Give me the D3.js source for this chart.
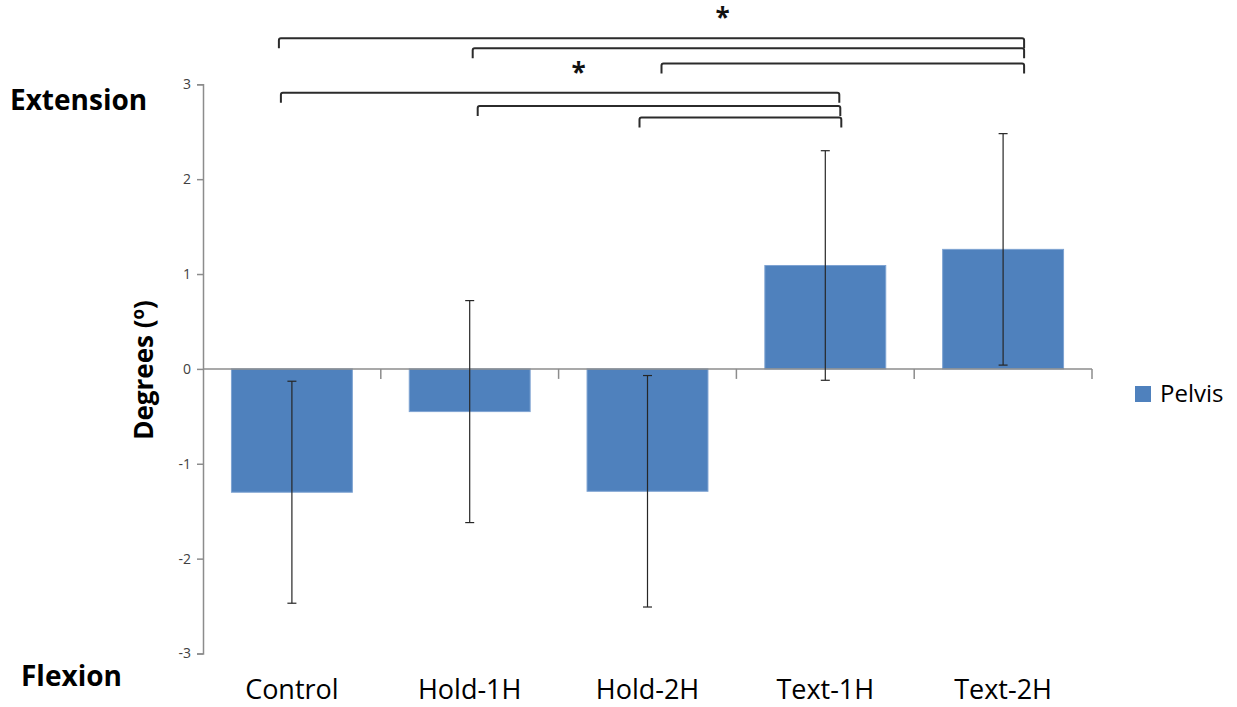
<!DOCTYPE html>
<html>
<head>
<meta charset="utf-8">
<script src="https://cdn.jsdelivr.net/npm/d3@7"></script>
<style>
  body { margin: 0; background: #fff; }
  text { font-family: "Open Sans", sans-serif; }
</style>
</head>
<body>
<div id="chart"></div>
<script>
// Data
const categories = ["Control", "Hold-1H", "Hold-2H", "Text-1H", "Text-2H"];
const pelvisMeans = [-1.30, -0.45, -1.29, 1.09, 1.26];
const pelvisErrors = [1.17, 1.17, 1.22, 1.21, 1.22];
const yTicks = [-3, -2, -1, 0, 1, 2, 3];

// Significance brackets (from, to, level in degrees)
const brackets = [
    { from: "Control", to: "Text-2H", level: 3.485, dx1: -13, dx2: 21 },
    { from: "Hold-1H", to: "Text-2H", level: 3.38, dx1: 3, dx2: 21 },
    { from: "Hold-2H", to: "Text-2H", level: 3.22, dx1: 14, dx2: 21 },
    { from: "Control", to: "Text-1H", level: 2.91, dx1: -11, dx2: 14 },
    { from: "Hold-1H", to: "Text-1H", level: 2.77, dx1: 8, dx2: 15 },
    { from: "Hold-2H", to: "Text-1H", level: 2.65, dx1: -8, dx2: 16 }
];
const stars = [
    { at: "Hold-2H", dx: 75, level: 3.68 },
    { at: "Hold-1H", dx: 109, level: 3.10 }
];

function createBarChart(containerId) {
    const width = 1237;
    const height = 707;

    d3.select("#" + containerId).html("");

    const svg = d3.select("#" + containerId)
        .append("svg")
        .attr("width", width)
        .attr("height", height);

    const x = d3.scaleBand()
        .domain(categories)
        .range([203, 1092])
        .paddingInner(0.32)
        .paddingOuter(0.16);

    const y = d3.scaleLinear()
        .domain([-3, 3])
        .range([653.5, 84.3]);

    const cx = c => x(c) + x.bandwidth() / 2;
    const axisColor = "#8c8c8c";

    // y axis
    const yAxis = d3.axisLeft(y)
        .tickValues(yTicks)
        .tickSize(6)
        .tickPadding(6)
        .tickFormat(d => String(d));

    const yg = svg.append("g")
        .attr("transform", "translate(203,0)")
        .call(yAxis);
    yg.select(".domain").attr("stroke", axisColor).attr("stroke-width", 1.5);
    yg.selectAll(".tick line").attr("stroke", axisColor).attr("stroke-width", 1.5);
    yg.selectAll(".tick text")
        .attr("fill", "#404040")
        .style("font-size", "14px");

    // bars
    svg.selectAll(".bar")
        .data(categories)
        .enter()
        .append("rect")
        .attr("class", "bar")
        .attr("x", d => x(d))
        .attr("width", x.bandwidth())
        .attr("y", (d, i) => y(Math.max(0, pelvisMeans[i])))
        .attr("height", (d, i) => Math.abs(y(pelvisMeans[i]) - y(0)))
        .attr("fill", "#4f81bd")
        .attr("stroke", "#7ea3d2")
        .attr("stroke-width", 1);

    // x axis along zero line, ticks at category boundaries
    const step = x.step();
    const x0 = x.range()[0];
    svg.append("line")
        .attr("x1", x0)
        .attr("x2", x.range()[1])
        .attr("y1", y(0))
        .attr("y2", y(0))
        .attr("stroke", axisColor)
        .attr("stroke-width", 1.5);

    svg.selectAll(".xtick")
        .data(d3.range(1, categories.length + 1))
        .enter()
        .append("line")
        .attr("class", "xtick")
        .attr("x1", i => x0 + i * step)
        .attr("x2", i => x0 + i * step)
        .attr("y1", y(0))
        .attr("y2", y(0) + 10)
        .attr("stroke", axisColor)
        .attr("stroke-width", 1.5);

    // error bars
    const err = svg.selectAll(".err")
        .data(categories)
        .enter()
        .append("g")
        .attr("class", "err")
        .attr("stroke", "#262626")
        .attr("stroke-width", 1.2);

    err.append("line")
        .attr("x1", d => cx(d))
        .attr("x2", d => cx(d))
        .attr("y1", (d, i) => y(pelvisMeans[i] + pelvisErrors[i]))
        .attr("y2", (d, i) => y(pelvisMeans[i] - pelvisErrors[i]));

    [1, -1].forEach(s => {
        err.append("line")
            .attr("x1", d => cx(d) - 4.5)
            .attr("x2", d => cx(d) + 4.5)
            .attr("y1", (d, i) => y(pelvisMeans[i] + s * pelvisErrors[i]))
            .attr("y2", (d, i) => y(pelvisMeans[i] + s * pelvisErrors[i]));
    });

    // category labels
    svg.selectAll(".xlabel")
        .data(categories)
        .enter()
        .append("text")
        .attr("class", "xlabel")
        .attr("x", d => cx(d))
        .attr("y", 699)
        .attr("text-anchor", "middle")
        .attr("fill", "#000")
        .style("font-size", "27px")
        .text(d => d);

    // significance brackets
    const tickLen = 10;
    svg.selectAll(".bracket")
        .data(brackets)
        .enter()
        .append("path")
        .attr("class", "bracket")
        .attr("d", b => {
            const xa = cx(b.from) + b.dx1;
            const xb = cx(b.to) + b.dx2;
            const yy = y(b.level);
            return `M${xa},${yy + tickLen} L${xa},${yy + 2} Q${xa},${yy} ${xa + 2},${yy}` +
                   ` L${xb - 2},${yy} Q${xb},${yy} ${xb},${yy + 2} L${xb},${yy + tickLen}`;
        })
        .attr("fill", "none")
        .attr("stroke", "#2b2b2b")
        .attr("stroke-width", 2);

    svg.selectAll(".star")
        .data(stars)
        .enter()
        .append("text")
        .attr("class", "star")
        .attr("x", s => cx(s.at) + s.dx)
        .attr("y", s => y(s.level))
        .attr("text-anchor", "middle")
        .attr("dominant-baseline", "middle")
        .style("font-size", "26px")
        .style("font-weight", "bold")
        .attr("fill", "#111")
        .text("*");

    // side labels
    svg.append("text")
        .attr("x", 10)
        .attr("y", 110)
        .style("font-size", "28px")
        .style("font-weight", "bold")
        .text("Extension");

    svg.append("text")
        .attr("x", 21)
        .attr("y", 686)
        .style("font-size", "28px")
        .style("font-weight", "bold")
        .text("Flexion");

    // y axis title
    const yt = svg.append("text")
        .attr("transform", "translate(153,370) rotate(-90)")
        .attr("text-anchor", "middle")
        .style("font-size", "26px")
        .style("font-weight", "bold");
    yt.append("tspan").text("Degrees (");
    yt.append("tspan").attr("dy", -9).style("font-size", "17px").text("o");
    yt.append("tspan").attr("dy", 9).text(")");

    // legend
    svg.append("rect")
        .attr("x", 1135)
        .attr("y", 386)
        .attr("width", 16)
        .attr("height", 16)
        .attr("fill", "#4f81bd");

    svg.append("text")
        .attr("x", 1160)
        .attr("y", 402)
        .style("font-size", "24px")
        .attr("fill", "#000")
        .text("Pelvis");
}

createBarChart("chart");
</script>
</body>
</html>
